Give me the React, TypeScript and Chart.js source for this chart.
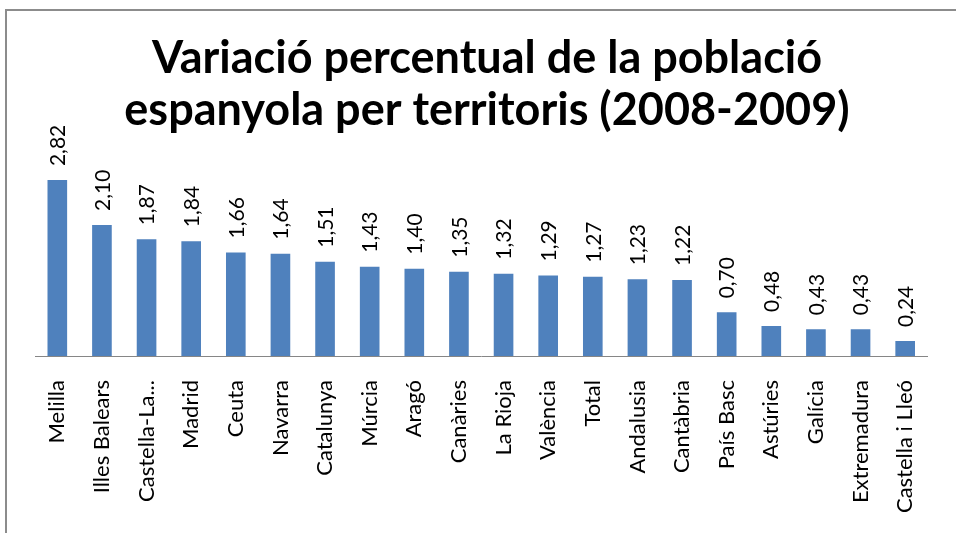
import React, { useEffect, useRef } from 'react';
import { Chart, registerables } from 'chart.js';

Chart.register(...registerables);

const categories = [
  'Melilla',
  'Illes Balears',
  'Castella-La...',
  'Madrid',
  'Ceuta',
  'Navarra',
  'Catalunya',
  'Múrcia',
  'Aragó',
  'Canàries',
  'La Rioja',
  'València',
  'Total',
  'Andalusia',
  'Cantàbria',
  'País Basc',
  'Astúries',
  'Galícia',
  'Extremadura',
  'Castella i Lleó',
];

const values = [2.82, 2.1, 1.87, 1.84, 1.66, 1.64, 1.51, 1.43, 1.4, 1.35, 1.32, 1.29, 1.27, 1.23, 1.22, 0.7, 0.48, 0.43, 0.43, 0.24];

const titleLines = ['Variació percentual de la població', 'espanyola per territoris (2008-2009)'];

const fmt = (v: number) => v.toFixed(2).replace('.', ',');

const valueLabels = {
  id: 'valueLabels',
  afterDatasetsDraw(chart: any) {
    const ctx = chart.ctx;
    const meta = chart.getDatasetMeta(0);
    ctx.save();
    ctx.font = '21px Lato';
    ctx.fillStyle = '#000';
    ctx.textAlign = 'left';
    ctx.textBaseline = 'middle';
    meta.data.forEach((bar: any, i: number) => {
      ctx.save();
      ctx.translate(bar.x + 1, bar.y - 14);
      ctx.rotate(-Math.PI / 2);
      ctx.fillText(fmt(values[i]), 0, 0);
      ctx.restore();
    });
    ctx.restore();
  },
};

export default function App() {
  const ref = useRef<HTMLCanvasElement | null>(null);

  useEffect(() => {
    if (!ref.current) return;
    const chart = new Chart(ref.current, {
      type: 'bar',
      data: {
        labels: categories,
        datasets: [
          {
            data: values,
            backgroundColor: '#4F81BD',
            borderWidth: 0,
            barPercentage: 0.44,
            categoryPercentage: 1,
          },
        ],
      },
      options: {
        animation: false,
        responsive: false,
        layout: { padding: { left: 35, right: 17, top: 0, bottom: 0 } },
        plugins: {
          legend: { display: false },
          tooltip: { enabled: false },
          title: {
            display: true,
            text: titleLines,
            color: '#000',
            font: { family: 'Lato', size: 45, weight: 'bold', lineHeight: 1.147 },
            padding: { top: 33, bottom: 32.6 },
          },
        },
        scales: {
          x: {
            grid: { display: false, drawTicks: false },
            border: { display: true, color: '#868686', width: 1 },
            ticks: {
              autoSkip: false,
              maxRotation: 90,
              minRotation: 90,
              padding: 24,
              color: '#000',
              font: { family: 'Lato', size: 22 },
            },
            afterFit: (s: any) => {
              s.height = 177;
            },
          },
          y: { display: false, min: 0, max: 3 },
        },
      },
      plugins: [valueLabels],
    });
    return () => chart.destroy();
  }, []);

  return (
    <div style={{ position: 'fixed', left: 0, top: 0, width: 956, height: 533, overflow: 'hidden', background: '#fff' }}>
      <div
        style={{
          position: 'absolute',
          left: 5,
          top: 9,
          width: 1000,
          height: 600,
          border: '2px solid #8c8c8c',
        }}
      />
      <canvas ref={ref} width={956} height={533} style={{ position: 'absolute', left: 0, top: 0, display: 'block' }} />
    </div>
  );
}
